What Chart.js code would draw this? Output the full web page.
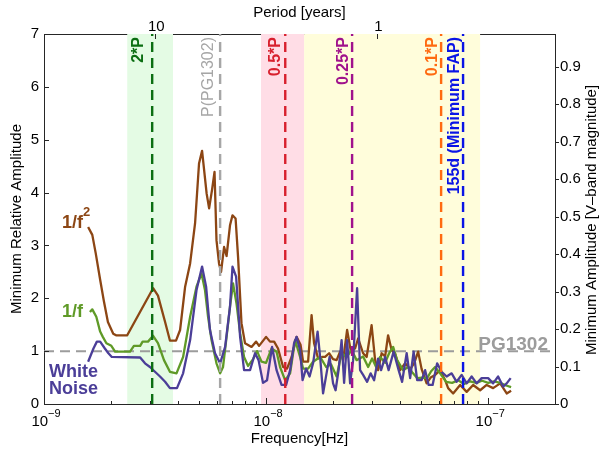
<!DOCTYPE html>
<html>
<head>
<meta charset="utf-8">
<script src="https://cdn.jsdelivr.net/npm/chart.js@4.4.1/dist/chart.umd.min.js"></script>
<style>
  body { margin: 0; background: #fff; }
</style>
</head>
<body>
<canvas id="chart" width="600" height="451"></canvas>
<script>
// frequencies in nHz (1e-9 Hz), amplitudes relative to PG1302
const brownFreq = [1.58, 1.65, 1.71, 1.79, 1.86, 1.94, 2.05, 2.11, 2.37, 3.10, 3.26, 3.51, 3.69, 3.93, 4.10, 4.32, 4.55, 4.79, 4.99, 5.15, 5.40, 5.54, 5.71, 5.86, 5.98, 6.14, 6.27, 6.47, 6.64, 6.88, 7.06, 7.29, 7.48, 7.75, 8.04, 8.60, 9.02, 9.30, 10.0, 10.42, 10.87, 11.32, 11.93, 12.43, 13.03, 13.72, 14.30, 14.68, 15.46, 16.03, 16.45, 17.15, 17.87, 18.44, 19.22, 20.03, 20.78, 21.54, 22.23, 23.17, 24.03, 25.17, 25.97, 27.35, 28.37, 29.87, 30.97, 31.95, 33.14, 34.36, 35.44, 36.75, 38.11, 40.14, 42.28, 44.54, 46.42, 48.39, 50.17, 52.84, 55.08, 57.71, 60.79, 64.02, 66.04, 69.56, 74.79, 80.03, 85.59, 92.04, 98.45, 105.3, 113.3, 121.2, 126.9];
const brownAmp = [3.35, 3.20, 2.85, 2.35, 1.95, 1.55, 1.33, 1.30, 1.30, 2.19, 2.05, 1.55, 1.20, 1.20, 1.40, 2.22, 2.66, 3.42, 4.55, 4.79, 3.98, 3.70, 4.05, 4.39, 3.10, 2.66, 2.50, 2.97, 2.80, 3.38, 3.57, 3.51, 2.78, 1.53, 1.15, 1.08, 1.18, 1.10, 1.27, 1.18, 1.18, 1.05, 0.70, 0.67, 0.89, 1.27, 1.12, 0.80, 0.80, 1.68, 1.15, 0.86, 0.89, 0.89, 0.96, 0.85, 0.83, 0.99, 0.83, 1.40, 1.02, 1.05, 1.24, 0.96, 0.89, 1.49, 0.83, 0.64, 0.96, 0.90, 1.30, 1.02, 0.95, 0.64, 0.77, 0.66, 0.77, 0.99, 0.66, 0.39, 0.50, 0.55, 0.64, 0.45, 0.30, 0.20, 0.36, 0.23, 0.36, 0.26, 0.36, 0.30, 0.39, 0.20, 0.25];

const greenFreq = [1.61, 1.65, 1.72, 1.79, 1.84, 1.91, 2.01, 2.09, 2.44, 2.54, 2.71, 2.78, 2.94, 3.10, 3.26, 3.47, 3.69, 3.95, 4.23, 4.55, 4.86, 5.12, 5.31, 5.48, 5.68, 5.98, 6.21, 6.40, 6.64, 6.88, 7.10, 7.36, 7.64, 7.96, 8.30, 8.74, 9.11, 9.54, 10.0, 10.59, 11.15, 11.56, 12.18, 12.83, 13.51, 14.23, 14.68, 15.46, 16.28, 17.51, 18.64, 19.63, 20.78, 21.88, 23.05, 24.28, 25.57, 27.35, 28.81, 30.03, 31.30, 32.62, 34.36, 35.82, 37.34, 38.92, 41.41, 43.62, 45.47, 47.89, 50.44, 53.12, 55.37, 57.71, 60.79, 64.69, 68.84, 73.25, 77.98, 82.97, 88.30, 93.97, 100, 106.4, 113.3, 120.5, 126.9];
const greenAmp = [1.74, 1.79, 1.65, 1.37, 1.27, 1.15, 1.10, 0.99, 0.99, 1.10, 1.10, 1.18, 1.18, 1.29, 1.15, 0.83, 0.61, 0.58, 0.89, 1.65, 2.22, 2.47, 2.15, 1.65, 1.21, 0.77, 0.58, 0.70, 1.27, 1.84, 2.28, 1.90, 1.34, 0.89, 0.72, 0.85, 1.00, 0.80, 0.78, 1.05, 0.99, 0.70, 0.45, 0.58, 1.21, 0.89, 0.67, 0.67, 0.80, 0.89, 0.70, 0.75, 0.52, 0.96, 0.89, 1.02, 0.83, 0.90, 0.70, 0.86, 0.70, 0.89, 0.78, 0.96, 1.08, 0.83, 0.64, 0.70, 0.60, 0.49, 0.50, 0.49, 0.62, 0.70, 0.58, 0.42, 0.40, 0.45, 0.38, 0.43, 0.40, 0.44, 0.40, 0.43, 0.40, 0.35, 0.32];

const purpleFreq = [1.58, 1.67, 1.73, 1.79, 1.88, 1.95, 2.02, 2.71, 2.85, 3.00, 3.16, 3.33, 3.51, 3.69, 3.97, 4.23, 4.55, 4.86, 5.15, 5.37, 5.59, 5.89, 6.21, 6.54, 6.88, 7.06, 7.33, 7.64, 7.96, 8.47, 8.92, 9.25, 9.69, 10.10, 10.64, 11.15, 11.74, 12.31, 12.83, 13.37, 13.72, 14.23, 14.60, 15.14, 15.70, 16.28, 17.06, 17.51, 18.06, 18.83, 19.32, 20.03, 20.56, 21.21, 21.88, 22.46, 23.17, 23.90, 24.66, 25.70, 26.51, 27.35, 28.51, 29.56, 30.65, 31.95, 32.96, 34.36, 35.63, 37.53, 39.53, 40.98, 42.96, 44.54, 46.18, 47.89, 50.17, 52.03, 53.95, 56.23, 58.93, 61.74, 65.03, 68.49, 72.13, 75.96, 80.03, 84.27, 88.76, 93.48, 100, 105.3, 110.9, 116.8, 121.2, 126.3];
const purpleAmp = [0.80, 1.05, 1.18, 1.18, 1.05, 0.96, 0.89, 0.88, 0.77, 0.70, 0.61, 0.52, 0.42, 0.30, 0.30, 0.58, 1.21, 2.15, 2.60, 2.22, 1.40, 0.96, 0.77, 1.08, 1.84, 2.60, 2.41, 1.27, 0.64, 0.64, 0.96, 0.83, 0.40, 0.45, 1.08, 0.64, 0.36, 0.36, 0.64, 1.15, 1.27, 1.02, 0.45, 0.67, 0.52, 0.77, 1.37, 0.89, 0.20, 0.64, 0.89, 0.39, 0.26, 0.64, 1.21, 0.40, 1.21, 0.39, 0.83, 2.19, 0.64, 0.55, 0.42, 0.58, 0.45, 0.86, 0.64, 0.89, 0.64, 0.99, 0.64, 0.42, 0.96, 0.49, 0.99, 0.45, 0.45, 0.64, 0.36, 0.36, 0.77, 0.61, 0.52, 0.58, 0.42, 0.55, 0.39, 0.52, 0.39, 0.49, 0.49, 0.39, 0.52, 0.33, 0.39, 0.49];

// vertical markers (nHz) and their labels
const markerFreq = [3.07, 6.21, 12.2, 24.4, 61.4, 77.1];
const markerLabels = ['2*P', 'P(PG1302)', '0.5*P', '0.25*P', '0.1*P', '155d (Minimum FAP)'];

// shaded bands (nHz)
const bandStart = [2.37, 9.49, 14.84];
const bandEnd = [3.81, 14.84, 92.0];

const pgLevel = 1;
const periodTicks = [10, 1];      // years
const freqRange = [1e-9, 2e-7];   // Hz
const relRange = [0, 7];
const magRange = [0, 0.987];      // 7 * 0.141 mag

// styles
const markerColors = ['#0b6e12', '#a6a6a6', '#d8202e', '#a0128c', '#ff6a10', '#0a14e6'];
const markerShift = [-14, -12, -10, -9, -9, -8];
const bandColors = ['#e4fbe4', '#ffdde6', '#fffddb'];
const secondsPerYear = 3.15576e7;
const FONT = "'Liberation Sans', Arial, Helvetica, sans-serif";

Chart.defaults.font.family = FONT;
Chart.defaults.color = '#000';

const toHz = v => v * 1e-9;
const pts = (fs, as) => fs.map((f, i) => ({ x: toHz(f), y: as[i] }));

const datasets = [
  {
    data: [{ x: freqRange[0], y: pgLevel }, { x: freqRange[1], y: pgLevel }],
    borderColor: '#9c9c9c', borderWidth: 2, borderDash: [10, 6], order: 9
  },
  { data: pts(brownFreq, brownAmp), borderColor: '#8c4614', borderWidth: 2.3, order: 3 },
  { data: pts(greenFreq, greenAmp), borderColor: '#5f9a27', borderWidth: 2.3, order: 2 },
  { data: pts(purpleFreq, purpleAmp), borderColor: '#4b3e98', borderWidth: 2.3, order: 1 }
];
markerFreq.forEach((f, i) => {
  datasets.push({
    data: [{ x: toHz(f), y: relRange[0] }, { x: toHz(f), y: relRange[1] }],
    borderColor: markerColors[i], borderWidth: 2.4, borderDash: [10, 6], order: 0
  });
});

const decor = {
  id: 'decor',
  beforeDatasetsDraw(chart) {
    const { ctx, chartArea: a, scales } = chart;
    ctx.save();
    bandStart.forEach((s, i) => {
      const x0 = scales.x.getPixelForValue(toHz(s));
      const x1 = scales.x.getPixelForValue(toHz(bandEnd[i]));
      ctx.fillStyle = bandColors[i];
      ctx.fillRect(x0, a.top, x1 - x0, a.bottom - a.top);
    });
    ctx.restore();
  },
  afterDatasetsDraw(chart) {
    const { ctx, chartArea: a, scales } = chart;
    const x = scales.x, y = scales.y, y2 = scales.y2, xt = scales.xTop;
    ctx.save();

    // marker labels
    markerLabels.forEach((t, i) => {
      const px = x.getPixelForValue(toHz(markerFreq[i]));
      ctx.save();
      ctx.translate(px + markerShift[i], a.top + 3);
      ctx.rotate(-Math.PI / 2);
      ctx.font = (i === 1 ? '' : 'bold ') + '16px ' + FONT;
      ctx.fillStyle = markerColors[i];
      ctx.textAlign = 'right';
      ctx.textBaseline = 'middle';
      ctx.fillText(t, 0, 0);
      ctx.restore();
    });

    // PG1302 label on the reference line
    ctx.font = 'bold 19px ' + FONT;
    ctx.fillStyle = '#9c9c9c';
    ctx.textAlign = 'right';
    ctx.textBaseline = 'alphabetic';
    ctx.fillText('PG1302', 548, y.getPixelForValue(pgLevel) - 1);

    // series labels
    ctx.textAlign = 'left';
    ctx.font = 'bold 18px ' + FONT;
    ctx.fillStyle = '#8c4614';
    ctx.fillText('1/f', 62, 228);
    ctx.font = 'bold 13px ' + FONT;
    ctx.fillText('2', 83, 216);
    ctx.font = 'bold 18px ' + FONT;
    ctx.fillStyle = '#5f9a27';
    ctx.fillText('1/f', 62, 317);
    ctx.fillStyle = '#4b3e98';
    ctx.fillText('White', 49, 377);
    ctx.fillText('Noise', 49, 394);

    // inward ticks
    ctx.strokeStyle = '#262626';
    ctx.lineWidth = 1;
    ctx.beginPath();
    for (let e = -9; e <= -7; e++) {
      for (let k = 1; k <= 9; k++) {
        const v = k * Math.pow(10, e);
        if (v > freqRange[1]) break;
        const px = Math.round(x.getPixelForValue(v)) + 0.5;
        const len = k === 1 ? 6 : 3;
        ctx.moveTo(px, a.bottom);
        ctx.lineTo(px, a.bottom - len);
      }
    }
    periodTicks.forEach(p => {
      const px = Math.round(xt.getPixelForValue(1 / (p * secondsPerYear))) + 0.5;
      ctx.moveTo(px, a.top);
      ctx.lineTo(px, a.top + 5);
    });
    y.ticks.forEach(t => {
      const py = Math.round(y.getPixelForValue(t.value)) + 0.5;
      ctx.moveTo(a.left, py);
      ctx.lineTo(a.left + 5, py);
    });
    y2.ticks.forEach(t => {
      const py = Math.round(y2.getPixelForValue(t.value)) + 0.5;
      ctx.moveTo(a.right, py);
      ctx.lineTo(a.right + 4, py);
    });
    ctx.stroke();

    // top tick labels (period)
    ctx.fillStyle = '#000';
    ctx.font = '15px ' + FONT;
    ctx.textAlign = 'center';
    ctx.textBaseline = 'middle';
    periodTicks.forEach(p => {
      const px = xt.getPixelForValue(1 / (p * secondsPerYear));
      ctx.fillText(String(p), px + 1, 27);
    });

    // bottom tick labels 10^n
    ctx.textAlign = 'left';
    for (let e = -9; e <= -7; e++) {
      const px = x.getPixelForValue(Math.pow(10, e));
      ctx.font = '15px ' + FONT;
      const w1 = ctx.measureText('10').width;
      ctx.font = '11px ' + FONT;
      const sup = '\u2212' + Math.abs(e);
      const w2 = ctx.measureText(sup).width;
      const x0 = px - (w1 + w2) / 2 + 2;
      ctx.font = '15px ' + FONT;
      ctx.fillText('10', x0, 422);
      ctx.font = '11px ' + FONT;
      ctx.fillText(sup, x0 + w1, 414);
    }

    // y axis titles
    ctx.font = '15px ' + FONT;
    ctx.textAlign = 'center';
    ctx.save();
    ctx.translate(17, 219);
    ctx.rotate(-Math.PI / 2);
    ctx.fillText('Minimum Relative Amplitude', 0, 0);
    ctx.restore();
    ctx.save();
    ctx.translate(592, 220);
    ctx.rotate(-Math.PI / 2);
    ctx.fillText('Minimum Amplitude [V\u2013band magnitude]', 0, 0);
    ctx.restore();

    ctx.restore();
  }
};

new Chart(document.getElementById('chart'), {
  type: 'line',
  data: { datasets },
  options: {
    responsive: false,
    animation: false,
    devicePixelRatio: 1,
    layout: { padding: 0 },
    elements: {
      point: { radius: 0 },
      line: { tension: 0, borderJoinStyle: 'round', borderCapStyle: 'butt' }
    },
    plugins: { legend: { display: false }, tooltip: { enabled: false } },
    scales: {
      x: {
        type: 'logarithmic', position: 'bottom',
        min: freqRange[0], max: freqRange[1],
        grid: { display: false, drawTicks: false },
        border: { color: '#262626', width: 1 },
        ticks: { display: false },
        title: { display: true, text: 'Frequency[Hz]', font: { size: 15 }, padding: { top: 0, bottom: 3 } },
        afterFit: s => { s.height = 47; }
      },
      xTop: {
        type: 'logarithmic', position: 'top',
        min: freqRange[0], max: freqRange[1],
        grid: { display: false, drawTicks: false },
        border: { color: '#262626', width: 1 },
        afterBuildTicks: s => { s.ticks = periodTicks.map(p => ({ value: 1 / (p * secondsPerYear) })); },
        ticks: { display: false },
        title: { display: true, text: 'Period [years]', font: { size: 15 }, padding: { top: 4, bottom: 0 } },
        afterFit: s => { s.height = 34; }
      },
      y: {
        position: 'left', min: relRange[0], max: relRange[1],
        grid: { display: false, drawTicks: false },
        border: { color: '#262626', width: 1 },
        ticks: { stepSize: 1, font: { size: 15 }, padding: 5 },
        afterFit: s => { s.width = 44; }
      },
      y2: {
        position: 'right', min: magRange[0], max: magRange[1],
        grid: { display: false, drawTicks: false },
        border: { color: '#262626', width: 1 },
        afterBuildTicks: s => { s.ticks = s.ticks.filter(t => t.value <= 0.9001); },
        ticks: { stepSize: 0.1, font: { size: 15 }, padding: 5,
                 callback: v => String(Math.round(v * 10) / 10) },
        afterFit: s => { s.width = 45; }
      }
    }
  },
  plugins: [decor]
});
</script>
</body>
</html>
